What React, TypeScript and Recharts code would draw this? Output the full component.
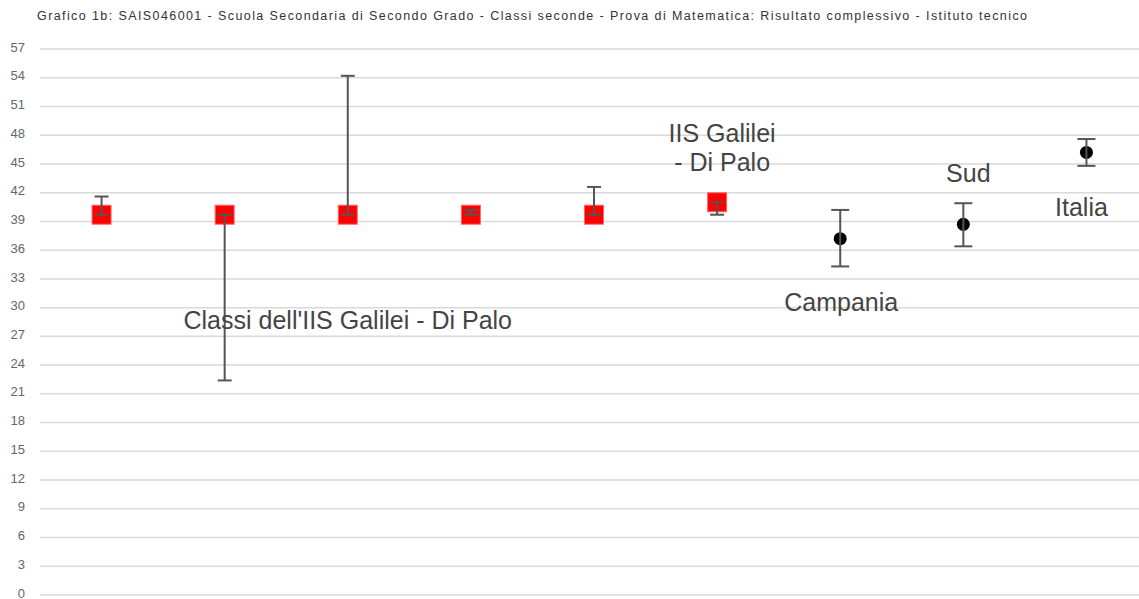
import { ScatterChart, Scatter, XAxis, YAxis, CartesianGrid, ErrorBar, ReferenceDot } from "recharts";

// school classes + school overall (red squares)
const schoolNames = ["Classe 1", "Classe 2", "Classe 3", "Classe 4", "Classe 5", "IIS Galilei - Di Palo"];
const schoolMeans = [39.7, 39.7, 39.7, 39.7, 39.7, 41.0];
const schoolErrLow = [0, 17.3, 0, 0, 0, 1.3];
const schoolErrHigh = [1.9, 0, 14.5, 0.5, 2.9, 0];

// reference areas (black dots)
const refNames = ["Campania", "Sud", "Italia"];
const refMeans = [37.2, 38.7, 46.2];
const refErrLow = [2.9, 2.3, 1.4];
const refErrHigh = [3.0, 2.2, 1.4];

const yTicks = [0, 3, 6, 9, 12, 15, 18, 21, 24, 27, 30, 33, 36, 39, 42, 45, 48, 51, 54, 57];

const title =
  "Grafico 1b: SAIS046001 - Scuola Secondaria di Secondo Grado - Classi seconde - Prova di Matematica: Risultato complessivo - Istituto tecnico";

const schoolData = schoolNames.map((name, i) => ({
  name,
  x: i + 1,
  y: schoolMeans[i],
  err: [schoolErrLow[i], schoolErrHigh[i]],
}));

const refData = refNames.map((name, i) => ({
  name,
  x: schoolNames.length + i + 1,
  y: refMeans[i],
  err: [refErrLow[i], refErrHigh[i]],
}));

const FONT = "'Liberation Sans', Arial, sans-serif";
const LABEL_COLOR = "#444";
const LABEL_SIZE = 25;

// where each point label sits relative to its marker (px)
const labelOffsets: Record<string, { dx: number; lines: string[]; dy: number[] }> = {
  "IIS Galilei - Di Palo": { dx: 5, lines: ["IIS Galilei", "- Di Palo"], dy: [-69, -40] },
  Campania: { dx: 1, lines: ["Campania"], dy: [63] },
  Sud: { dx: 5, lines: ["Sud"], dy: [-51] },
  Italia: { dx: -5, lines: ["Italia"], dy: [55] },
};

function PointLabel({ cx, cy, name }: { cx: number; cy: number; name: string }) {
  const o = labelOffsets[name];
  if (!o) return null;
  return (
    <g>
      {o.lines.map((line, k) => (
        <text
          key={k}
          x={cx + o.dx}
          y={cy + o.dy[k]}
          textAnchor="middle"
          dominantBaseline="central"
          fontSize={LABEL_SIZE}
          fontFamily={FONT}
          fill={LABEL_COLOR}
        >
          {line}
        </text>
      ))}
    </g>
  );
}

const RedSquare = (props: any) => {
  const { cx, cy, payload } = props;
  return (
    <g>
      <rect x={cx - 9.5} y={cy - 9.5} width={19} height={19} fill="#ff0000" stroke="#ff6666" strokeWidth={1} />
      <PointLabel cx={cx} cy={cy} name={payload.name} />
    </g>
  );
};

const BlackDot = (props: any) => {
  const { cx, cy, payload } = props;
  return (
    <g>
      <circle cx={cx} cy={cy} r={6.5} fill="#000" />
      <PointLabel cx={cx} cy={cy} name={payload.name} />
    </g>
  );
};

const Nothing = () => <g />;

export default function App() {
  return (
    <div
      style={{
        position: "absolute",
        left: 0,
        top: 0,
        width: 1139,
        height: 599,
        overflow: "hidden",
        background: "#fff",
      }}
    >
      <svg width={1139} height={30} style={{ position: "absolute", left: 0, top: 0 }}>
        <text
          x={37}
          y={20}
          fontSize={12.5}
          fontFamily={FONT}
          fill="#333"
          textLength={990}
          lengthAdjust="spacing"
        >
          {title}
        </text>
      </svg>
      <ScatterChart width={1148} height={599} margin={{ top: 49, right: 0, left: 0, bottom: 4 }}>
        <CartesianGrid vertical={false} stroke="#d9d9d9" strokeWidth={1.5} />
        <XAxis
          type="number"
          dataKey="x"
          domain={[0.5, 9.5]}
          ticks={[]}
          tick={false}
          tickLine={false}
          height={0}
          axisLine={{ stroke: "#555", strokeWidth: 2 }}
        />
        <YAxis
          type="number"
          dataKey="y"
          domain={[0, 57]}
          ticks={yTicks}
          interval={0}
          width={40}
          axisLine={false}
          tickLine={false}
          tickSize={0}
          tickMargin={15}
          tick={{ fontSize: 13, fill: "#666", fontFamily: FONT, dy: -2 }}
        />
        <Scatter data={schoolData} shape={RedSquare} isAnimationActive={false} />
        <Scatter data={refData} shape={BlackDot} isAnimationActive={false} />
        <Scatter data={schoolData} shape={Nothing} isAnimationActive={false}>
          <ErrorBar
            dataKey="err"
            direction="y"
            width={7}
            stroke="#555"
            strokeWidth={2}
            isAnimationActive={false}
            {...({ zIndex: 1000 } as any)}
          />
        </Scatter>
        <Scatter data={refData} shape={Nothing} isAnimationActive={false}>
          <ErrorBar
            dataKey="err"
            direction="y"
            width={9}
            stroke="#555"
            strokeWidth={2}
            isAnimationActive={false}
            {...({ zIndex: 1000 } as any)}
          />
        </Scatter>
        <ReferenceDot
          x={3}
          y={28.7}
          r={0}
          fill="none"
          stroke="none"
          label={{
            value: "Classi dell'IIS Galilei - Di Palo",
            position: "center",
            fontSize: LABEL_SIZE,
            fontFamily: FONT,
            fill: LABEL_COLOR,
          }}
        />
      </ScatterChart>
    </div>
  );
}
